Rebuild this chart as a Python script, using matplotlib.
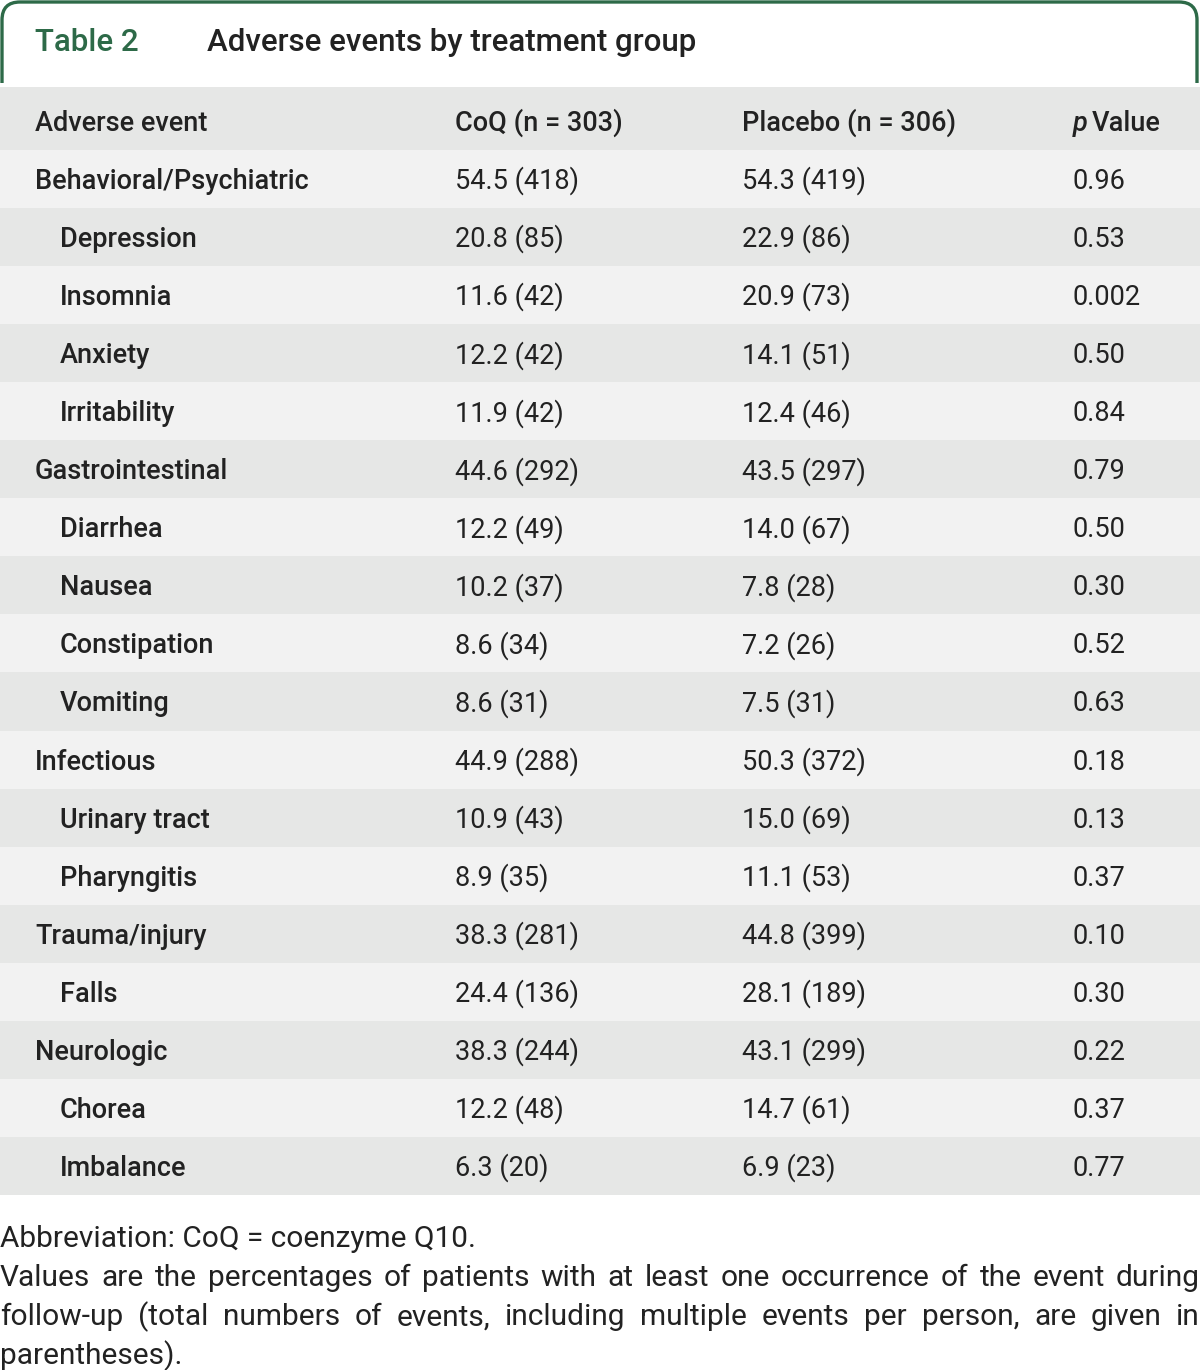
import matplotlib
matplotlib.use('Agg')
import matplotlib.pyplot as plt
import matplotlib.patches as patches
from matplotlib.path import Path

# Dữ liệu bảng
events = ['Behavioral/Psychiatric', 'Depression', 'Insomnia', 'Anxiety', 'Irritability',
          'Gastrointestinal', 'Diarrhea', 'Nausea', 'Constipation', 'Vomiting',
          'Infectious', 'Urinary tract', 'Pharyngitis', 'Trauma/injury', 'Falls',
          'Neurologic', 'Chorea', 'Imbalance']
is_sub = [0, 1, 1, 1, 1, 0, 1, 1, 1, 1, 0, 1, 1, 0, 1, 0, 1, 1]
coq_pct = ['54.5', '20.8', '11.6', '12.2', '11.9', '44.6', '12.2', '10.2', '8.6', '8.6',
           '44.9', '10.9', '8.9', '38.3', '24.4', '38.3', '12.2', '6.3']
coq_n = [418, 85, 42, 42, 42, 292, 49, 37, 34, 31, 288, 43, 35, 281, 136, 244, 48, 20]
placebo_pct = ['54.3', '22.9', '20.9', '14.1', '12.4', '43.5', '14.0', '7.8', '7.2', '7.5',
               '50.3', '15.0', '11.1', '44.8', '28.1', '43.1', '14.7', '6.9']
placebo_n = [419, 86, 73, 51, 46, 297, 67, 28, 26, 31, 372, 69, 53, 399, 189, 299, 61, 23]
p_values = ['0.96', '0.53', '0.002', '0.50', '0.84', '0.79', '0.50', '0.30', '0.52', '0.63',
            '0.18', '0.13', '0.37', '0.10', '0.30', '0.22', '0.37', '0.77']

headers = ['Adverse event', 'CoQ (n = 303)', 'Placebo (n = 306)', 'Value']
title_num = 'Table 2'
title_text = 'Adverse events by treatment group'
note1 = 'Abbreviation: CoQ = coenzyme Q10.'
# các dòng chú thích, ngắt dòng như bản gốc
note_lines = ['Values are the percentages of patients with at least one occurrence of the event during',
              'follow-up (total numbers of events, including multiple events per person, are given in',
              'parentheses).']

W, H = 1200, 1370
GREEN = '#2d6a48'
DARK = '#222222'
FONT = ['Roboto', 'DejaVu Sans']
FS = 19.5

fig = plt.figure(figsize=(W / 100, H / 100), dpi=100)
ax = fig.add_axes([0, 0, 1, 1])
ax.set_xlim(0, W)
ax.set_ylim(H, 0)
ax.axis('off')

# Khung tiêu đề màu xanh, bo góc
r = 18
verts = [(2, 83), (2, 2 + r), (2, 2), (2 + r, 2), (1197 - r, 2), (1197, 2), (1197, 2 + r), (1197, 83)]
codes = [Path.MOVETO, Path.LINETO, Path.CURVE3, Path.CURVE3, Path.LINETO, Path.CURVE3, Path.CURVE3, Path.LINETO]
ax.add_patch(patches.PathPatch(Path(verts, codes), fill=False, edgecolor=GREEN, lw=2.4))

ax.text(35, 51, title_num, color=GREEN, fontsize=22.5, family=FONT, fontweight='medium', va='baseline')
ax.text(207, 51, title_text, color=DARK, fontsize=22.5, family=FONT, fontweight='medium', va='baseline')

# Hàng tiêu đề cột
col_x = [35, 455, 742, 1073]
ax.add_patch(patches.Rectangle((0, 87), W, 63, facecolor='#e6e7e6', edgecolor='none'))
for x, h in zip(col_x[:3], headers[:3]):
    ax.text(x, 131, h, color=DARK, fontsize=FS, family=FONT, fontweight='medium', va='baseline')
ax.text(col_x[3], 131, 'p', color=DARK, fontsize=FS, family=FONT, fontweight='medium',
        style='italic', va='baseline')
ax.text(col_x[3] + 19, 131, headers[3], color=DARK, fontsize=FS, family=FONT, fontweight='medium',
        va='baseline')

# Các hàng dữ liệu
row_top, row_h = 150, 58.05
for i, ev in enumerate(events):
    y0 = row_top + i * row_h
    color = '#f2f2f2' if i % 2 == 0 else '#e6e7e6'
    ax.add_patch(patches.Rectangle((0, y0), W, row_h, facecolor=color, edgecolor='none'))
    yb = y0 + 39
    ax.text(60 if is_sub[i] else 35, yb, ev, color=DARK, fontsize=FS, family=FONT,
            fontweight='medium', va='baseline')
    ax.text(col_x[1], yb, f'{coq_pct[i]} ({coq_n[i]})', color=DARK, fontsize=FS, family=FONT, va='baseline')
    ax.text(col_x[2], yb, f'{placebo_pct[i]} ({placebo_n[i]})', color=DARK, fontsize=FS, family=FONT, va='baseline')
    ax.text(col_x[3], yb, p_values[i], color=DARK, fontsize=FS, family=FONT, va='baseline')

# Chú thích, căn đều hai bên
fig.canvas.draw()
renderer = fig.canvas.get_renderer()
fs_note = 21.5


def text_width(s):
    t = ax.text(0, 0, s, fontsize=fs_note, family=FONT)
    bb = t.get_window_extent(renderer)
    t.remove()
    return bb.width


ax.text(0, 1247, note1, color=DARK, fontsize=fs_note, family=FONT, va='baseline')

space_w = text_width('a b') - text_width('ab')
yb = 1286
for k, line in enumerate(note_lines):
    ln = line.split()
    widths = [text_width(x) for x in ln]
    if k < len(note_lines) - 1 and len(ln) > 1:
        gap = (W - sum(widths)) / (len(ln) - 1)
    else:
        gap = space_w
    x = 0
    for w, wd in zip(ln, widths):
        ax.text(x, yb, w, color=DARK, fontsize=fs_note, family=FONT, va='baseline')
        x += wd + gap
    yb += 39.3

fig.savefig('out.png', dpi=100)
